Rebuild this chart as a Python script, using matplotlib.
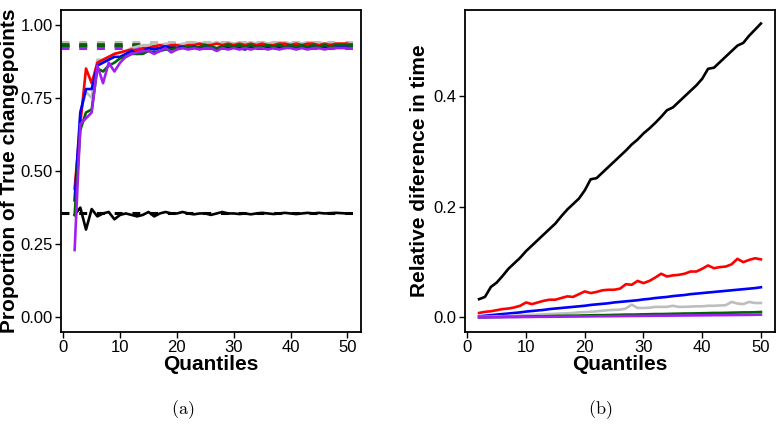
import matplotlib
matplotlib.use("Agg")
import matplotlib.pyplot as plt
import numpy as np

plt.rcParams['font.family'] = ['Liberation Sans', 'DejaVu Sans']
plt.rcParams['mathtext.fontset'] = 'cm'

quantiles = list(range(2, 51))

# Panel (a): proportion of true changepoints
red_l = [.44, .66, .85, .80, .87, .88, .89, .90, .905, .91,
         .915, .91, .92, .92, .925, .93, .925, .93, .93, .925,
         .93, .93, .935, .93, .93, .935, .93, .935, .93, .935,
         .93, .935, .93, .935, .93, .93, .935, .935, .93, .935,
         .93, .935, .935, .93, .935, .93, .935, .935, .935]
blue_l = [.40, .70, .78, .78, .86, .87, .88, .89, .89, .90,
          .91, .90, .91, .92, .915, .92, .925, .92, .92, .925,
          .92, .925, .92, .925, .92, .915, .925, .92, .925, .92,
          .915, .925, .92, .92, .925, .92, .925, .92, .925, .92,
          .925, .92, .925, .92, .925, .92, .925, .925, .925]
grey_l = [.40, .70, .77, .75, .88, .88, .89, .90, .905, .91,
          .92, .925, .93, .93, .935, .93, .935, .935, .93, .935,
          .935, .94, .935, .94, .935, .94, .935, .94, .935, .94,
          .935, .94, .935, .94, .935, .94, .935, .94, .935, .94,
          .935, .94, .935, .94, .935, .94, .935, .935, .935]
green_l = [.35, .64, .70, .71, .85, .84, .86, .87, .885, .89,
           .90, .90, .90, .91, .905, .91, .915, .915, .92, .92,
           .925, .92, .925, .93, .925, .92, .925, .93, .925, .93,
           .925, .93, .925, .925, .93, .925, .93, .925, .93, .925,
           .93, .925, .93, .925, .93, .925, .93, .93, .93]
purple_l = [.23, .66, .68, .70, .86, .80, .87, .84, .87, .89,
            .90, .905, .91, .91, .90, .91, .92, .905, .915, .92,
            .915, .92, .915, .92, .92, .91, .92, .915, .92, .915,
            .92, .915, .92, .92, .915, .92, .915, .92, .92, .915,
            .92, .915, .92, .92, .915, .92, .92, .92, .92]
black_l = [.35, .375, .30, .37, .345, .355, .36, .335, .35, .355,
           .35, .345, .35, .36, .345, .355, .36, .355, .355, .36,
           .355, .352, .355, .355, .35, .355, .36, .355, .355, .353,
           .355, .352, .355, .357, .355, .353, .355, .357, .355, .353,
           .355, .357, .355, .357, .355, .356, .357, .356, .355]

# asymptotic reference levels (dashed)
ref_names = ['blue', 'grey', 'red', 'green', 'purple', 'black']
ref_levels = [0.926, 0.940, 0.935, 0.930, 0.920, 0.357]

# Panel (b): relative difference in time
black_r = [.033, .037, .055, .063, .075, .088, .098, .108, .120, .130,
           .140, .150, .160, .170, .183, .195, .205, .215, .230, .250,
           .252, .262, .272, .282, .292, .302, .313, .322, .333, .342,
           .352, .363, .375, .380, .390, .400, .410, .420, .432, .450,
           .452, .462, .472, .482, .492, .497, .510, .521, .532]
red_r = [.008, .010, .011, .013, .015, .016, .018, .021, .027, .024,
         .027, .030, .032, .032, .035, .038, .037, .042, .047, .044,
         .046, .049, .050, .050, .052, .060, .059, .066, .062, .066,
         .072, .079, .074, .076, .077, .079, .083, .083, .088, .094,
         .089, .091, .092, .096, .106, .100, .104, .107, .105]
blue_r = [.002, .003, .004, .005, .006, .007, .008, .009, .0105, .0115,
          .0125, .0135, .015, .016, .017, .018, .019, .020, .021, .0225,
          .0235, .0245, .0255, .027, .028, .029, .030, .031, .0325, .0335,
          .035, .036, .037, .0385, .0395, .0405, .042, .043, .044, .045,
          .046, .047, .048, .049, .050, .051, .052, .053, .0545]
grey_r = [.001, .001, .0015, .002, .002, .0025, .003, .0035, .004, .0045,
          .005, .0055, .006, .0065, .007, .0075, .008, .009, .0095, .010,
          .011, .012, .013, .0135, .014, .016, .023, .017, .017, .0175,
          .019, .019, .019, .021, .019, .019, .0195, .020, .020, .021,
          .021, .0215, .022, .028, .025, .024, .028, .026, .026]
green_r = [.000, .000, .0005, .0005, .0008, .001, .001, .0012, .0015, .0017,
           .002, .002, .0022, .0025, .0027, .003, .003, .0032, .0035, .0037,
           .004, .004, .0042, .0045, .0047, .005, .005, .0052, .0055, .0057,
           .006, .006, .0062, .0065, .0067, .007, .007, .0072, .0075, .0077,
           .008, .008, .0082, .0085, .0087, .009, .009, .0093, .0097]
purple_r = [.000, .000, .000, .0003, .0003, .0005, .0005, .0006, .0007, .0008,
            .001, .001, .0011, .0012, .0013, .0014, .0015, .0016, .0017, .0018,
            .002, .002, .0021, .0022, .0023, .0024, .0025, .0026, .0027, .0028,
            .003, .003, .0031, .0032, .0033, .0034, .0035, .0036, .0037, .0038,
            .004, .004, .0041, .0042, .0043, .0044, .0045, .0047, .005]

colors = {'black': 'black', 'red': '#FF0000', 'blue': '#0000FF',
          'grey': '#BEBEBE', 'green': '#006400', 'purple': '#A020F0'}

fig = plt.figure(figsize=(7.82, 4.26), dpi=100)
axL = fig.add_axes([61/782, 94/426, 300/782, 322/426])
axR = fig.add_axes([465/782, 94/426, 310/782, 322/426])

lw = 1.9
for name, lev in zip(ref_names, ref_levels):
    axL.axhline(lev, color=colors[name], lw=2.2, ls=(0, (2.6, 3.2)), zorder=1)

left_series = [('black', black_l), ('grey', grey_l), ('red', red_l),
               ('blue', blue_l), ('green', green_l), ('purple', purple_l)]
for name, vals in left_series:
    axL.plot(quantiles, vals, color=colors[name], lw=lw, zorder=2)

right_series = [('black', black_r), ('red', red_r), ('blue', blue_r),
                ('grey', grey_r), ('green', green_r), ('purple', purple_r)]
for name, vals in right_series:
    axR.plot(quantiles, vals, color=colors[name], lw=lw)

axL.set_xlim(-0.4, 52.4)
axL.set_ylim(-0.05, 1.05)
axL.set_xticks([0, 10, 20, 30, 40, 50])
axL.set_yticks([0, 0.25, 0.5, 0.75, 1.0])
axL.set_yticklabels(['0.00', '0.25', '0.50', '0.75', '1.00'])

axR.set_xlim(-0.4, 52.4)
axR.set_ylim(-0.0265, 0.5565)
axR.set_xticks([0, 10, 20, 30, 40, 50])
axR.set_yticks([0.0, 0.2, 0.4])
axR.set_yticklabels(['0.0', '0.2', '0.4'])

for ax in (axL, axR):
    for s in ax.spines.values():
        s.set_linewidth(1.3)
        s.set_color('black')
    ax.tick_params(direction='out', length=4, width=1.0, color='black',
                   labelsize=12, labelcolor='black', pad=2)
    ax.set_xlabel('Quantiles', fontsize=15, fontweight='bold', labelpad=0)

axL.set_ylabel('Proportion of True changepoints', fontsize=15, fontweight='bold', labelpad=1)
axR.set_ylabel('Relative diference in time', fontsize=15, fontweight='bold', labelpad=3)

fig.text(183/782, 1 - 410/426, r'$\mathrm{(a)}$', ha='center', va='center', fontsize=13)
fig.text(600/782, 1 - 410/426, r'$\mathrm{(b)}$', ha='center', va='center', fontsize=13)

fig.savefig('out.png', dpi=100)
